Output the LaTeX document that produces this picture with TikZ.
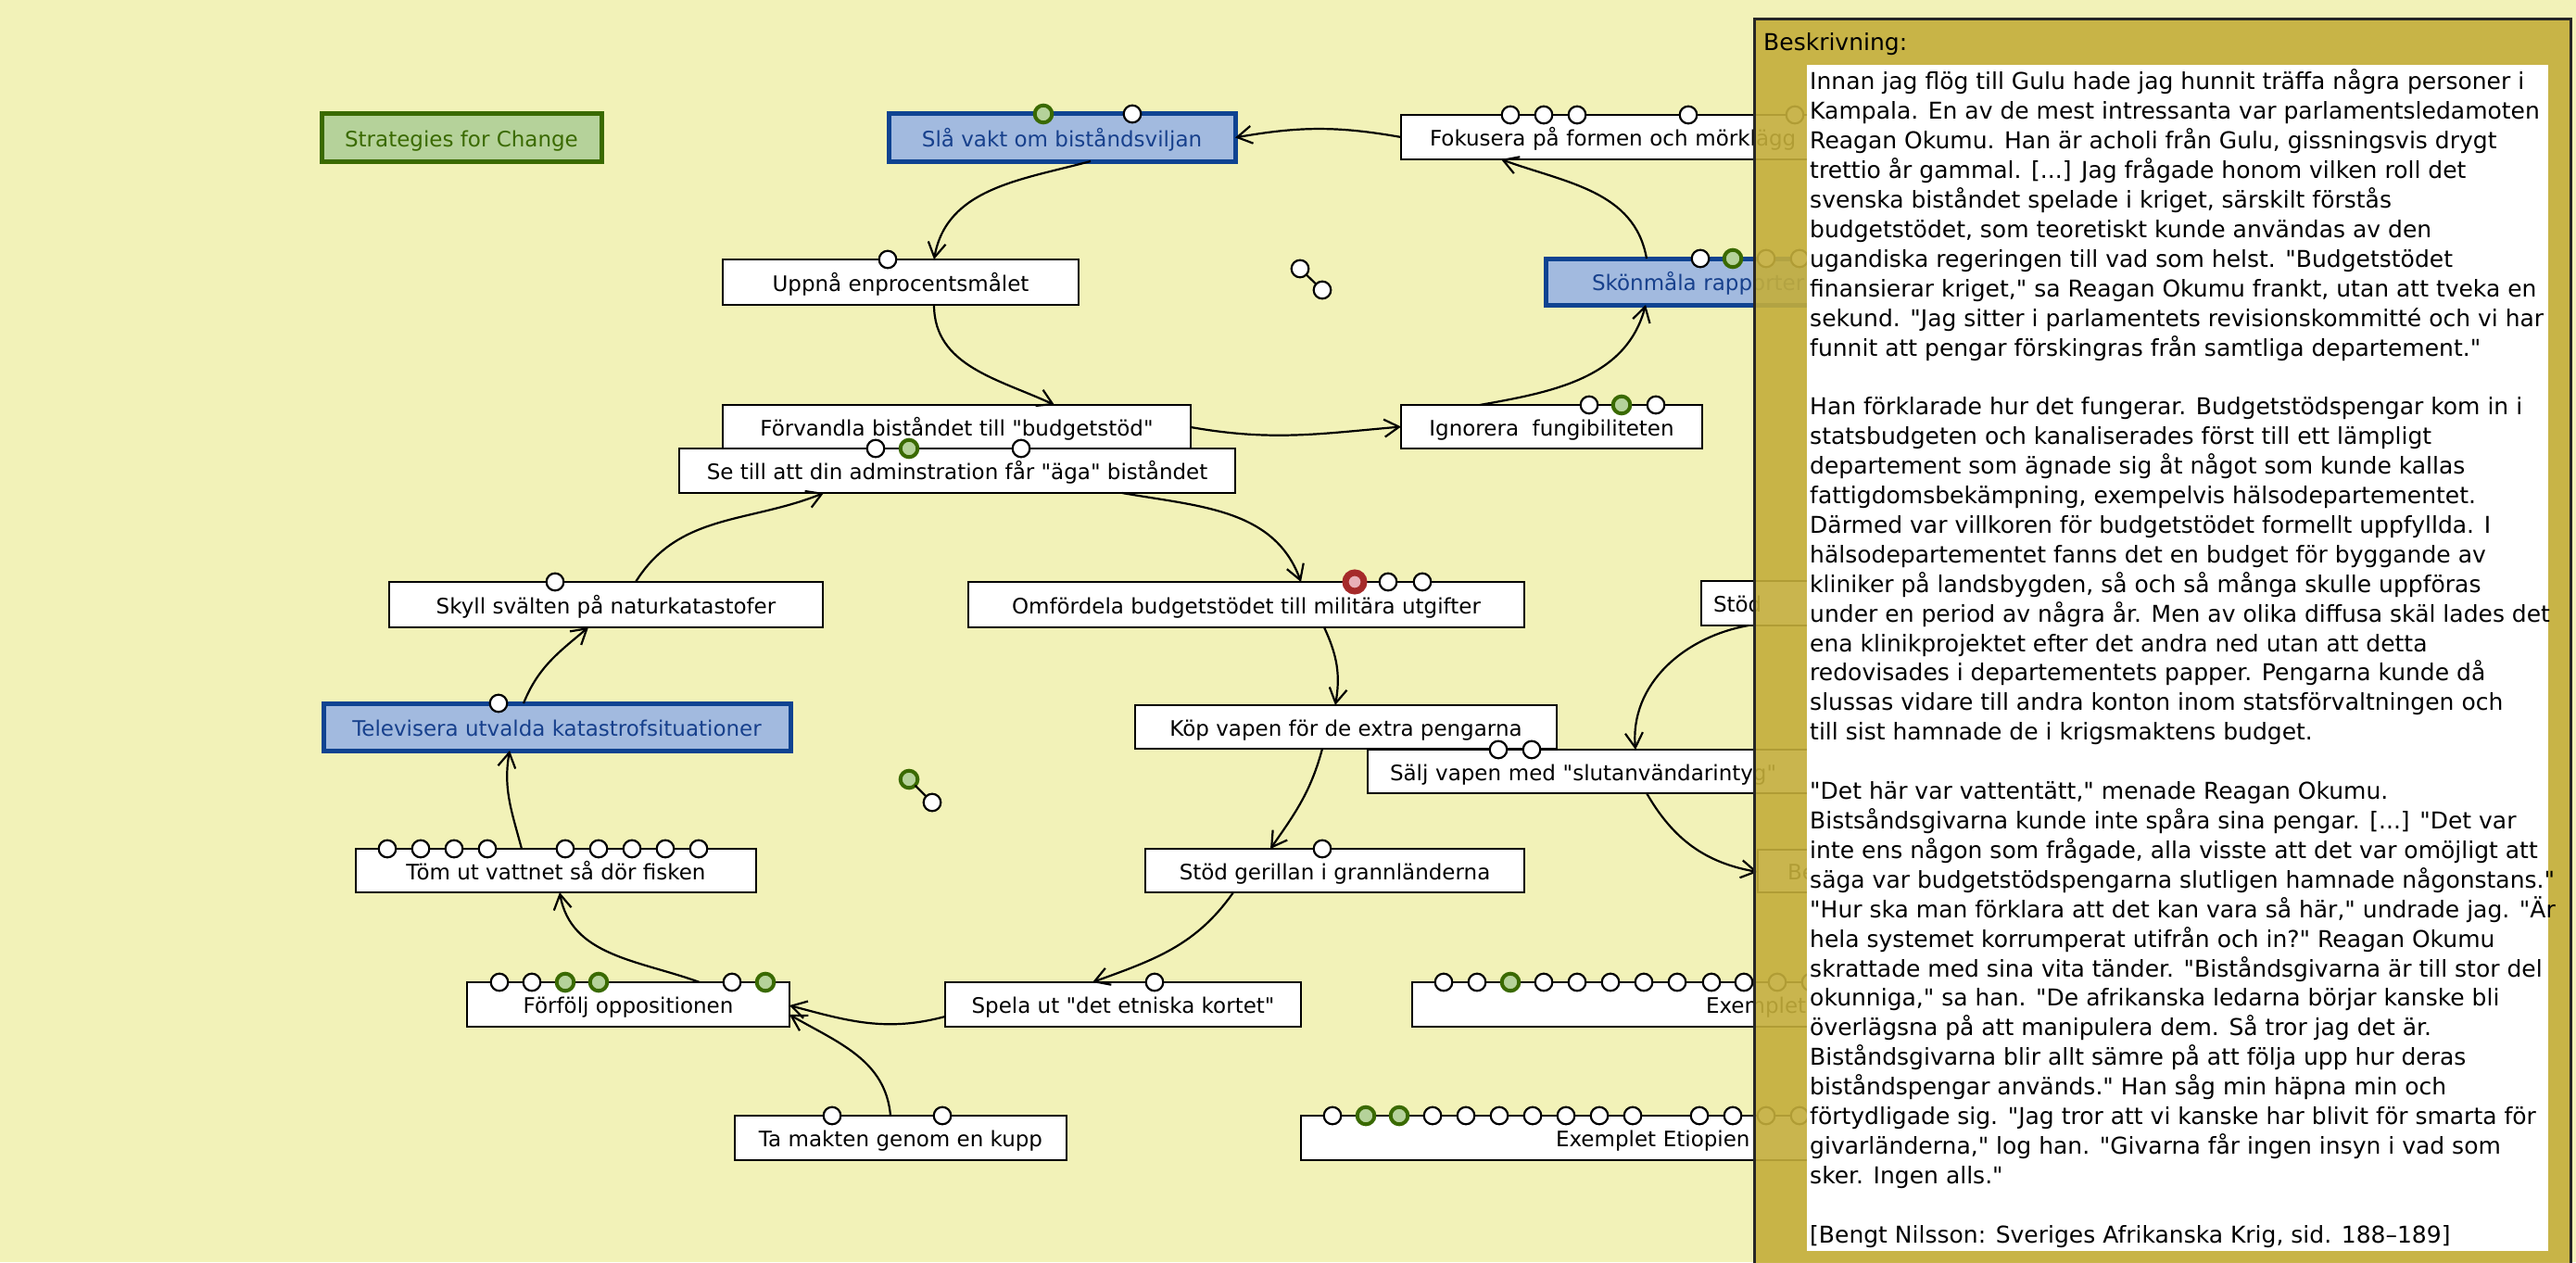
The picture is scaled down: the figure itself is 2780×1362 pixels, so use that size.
\documentclass[tikz,border=0pt]{standalone}
\usepackage{fontspec}
\setmainfont{DejaVu Sans}[Ligatures=TeXOff]
\usetikzlibrary{arrows.meta}
\definecolor{bg}{HTML}{F2F2B8}
\definecolor{gold}{HTML}{C4AE3B}
\definecolor{blueF}{HTML}{A2BADF}
\definecolor{blueB}{HTML}{0F4391}
\definecolor{blueT}{HTML}{17408C}
\definecolor{greenF}{HTML}{B5D29A}
\definecolor{greenB}{HTML}{3A6A00}
\definecolor{redF}{HTML}{E8B0B8}
\definecolor{redB}{HTML}{A52A2A}
\newcommand\nodefont{\fontsize{23}{27}\selectfont}
\newcommand\panelfont{\fontsize{25}{31.9}\selectfont}
\begin{document}
\begin{tikzpicture}[x=1pt,y=1pt,
  box/.style={draw=black, line width=2.6pt, fill=white, inner sep=0pt, outer sep=0pt, font=\nodefont, text height=19pt, text depth=0pt},
  bbox/.style={box, draw=blueB, fill=blueF, text=blueT, line width=5pt},
  gbox/.style={box, draw=greenB, fill=greenF, text=greenB, line width=5pt},
  wc/.style={circle, draw=black, fill=white, line width=2.2pt, minimum size=18.6pt, inner sep=0pt, outer sep=0pt},
  gc/.style={wc, draw=greenB, fill=greenF, line width=4pt},
  rc/.style={wc, draw=redB, fill=redF, line width=7pt, minimum size=20pt},
  conn/.style={line width=2.2pt, -{Straight Barb[length=16pt,width=19pt]}},
]
\useasboundingbox (0,0) rectangle (2780,-1362);
\clip (0,0) rectangle (2780,-1362);
\fill[bg] (0,0) rectangle (2780,-1362);

% boxes
\node[gbox, minimum width=302pt, minimum height=51pt] (strat) at (498,-148.5) {Strategies for Change};
\node[bbox, minimum width=374pt, minimum height=51pt] (slavakt) at (1146,-148.5) {Slå vakt om biståndsviljan};
\node[box, anchor=west, minimum height=48pt, inner xsep=31pt, text width=440pt, align=left] (fokus) at (1512,-148) {Fokusera på formen och mörklägg};
\node[box, minimum width=384pt, minimum height=49pt] (uppna) at (972,-304.5) {Uppnå enprocentsmålet};
\node[bbox, anchor=west, minimum height=50pt, inner xsep=50pt, text width=280pt, align=left] (skon) at (1668,-304) {Skönmåla rapporter};
\node[box, minimum width=505pt, minimum height=48pt] (forv) at (1032.5,-461) {Förvandla biståndet till "budgetstöd"};
\node[box, minimum width=325pt, minimum height=47pt] (ignor) at (1674.5,-460.5) {Ignorera\ \ fungibiliteten};
\node[box, minimum width=600pt, minimum height=48pt] (setill) at (1033,-508) {Se till att din adminstration får "äga" biståndet};
\node[box, minimum width=468pt, minimum height=49pt] (skyll) at (654,-652.5) {Skyll svälten på naturkatastofer};
\node[box, minimum width=600pt, minimum height=49pt] (omf) at (1345,-652.5) {Omfördela budgetstödet till militära utgifter};
\node[box, anchor=west, minimum height=48pt, inner xsep=13pt, text width=300pt, align=left] (stodR) at (1836,-651) {Stöd};
\node[bbox, minimum width=504pt, minimum height=51pt] (telev) at (601,-784.5) {Televisera utvalda katastrofsituationer};
\node[box, minimum width=455pt, minimum height=47pt] (kop) at (1452.5,-784.5) {Köp vapen för de extra pengarna};
\node[box, anchor=west, minimum height=47pt, inner xsep=24pt, text width=460pt, align=left] (salj) at (1476,-832.5) {Sälj vapen med "slutanvändarintyg"};
\node[box, minimum width=432pt, minimum height=47pt] (tom) at (600,-939.5) {Töm ut vattnet så dör fisken};
\node[box, minimum width=409pt, minimum height=47pt] (stodg) at (1440.5,-939.5) {Stöd gerillan i grannländerna};
\node[box, anchor=west, minimum height=46pt, inner xsep=32pt, text width=250pt, align=left] (beR) at (1897,-940) {Be};
\node[box, minimum width=348pt, minimum height=48pt] (forf) at (678,-1084) {Förfölj oppositionen};
\node[box, minimum width=384pt, minimum height=48pt] (spela) at (1212,-1084) {Spela ut "det etniska kortet"};
\node[box, anchor=west, minimum height=48pt, inner xsep=317pt, text width=200pt, align=left] (exem1) at (1524,-1084) {Exemplet};
\node[box, minimum width=358pt, minimum height=48pt] (ta) at (972,-1228) {Ta makten genom en kupp};
\node[box, anchor=west, minimum height=48pt, inner xsep=275pt, text width=250pt, align=left] (exem2) at (1404,-1228) {Exemplet Etiopien};

% circles on top edges
\node[gc] (slavakt-g1) at (1126,0 |- slavakt.north) {};
\node[wc] (slavakt-w1) at (1222,0 |- slavakt.north) {};
\foreach \x [count=\i] in {1630,1666,1702,1822,1937} \node[wc] (fokus-w\i) at (\x,0 |- fokus.north) {};
\node[wc] (uppna-w1) at (958,0 |- uppna.north) {};
\foreach \x [count=\i] in {1835,1906,1942} \node[wc] (skon-w\i) at (\x,0 |- skon.north) {};
\node[gc] (skon-g1) at (1870,0 |- skon.north) {};
\foreach \x [count=\i] in {1715,1787} \node[wc] (ignor-w\i) at (\x,0 |- ignor.north) {};
\node[gc] (ignor-g1) at (1750,0 |- ignor.north) {};
\foreach \x [count=\i] in {945,1102} \node[wc] (setill-w\i) at (\x,0 |- setill.north) {};
\node[gc] (setill-g1) at (981,0 |- setill.north) {};
\node[wc] (skyll-w1) at (599,0 |- skyll.north) {};
\node[rc] (omf-r1) at (1462,0 |- omf.north) {};
\foreach \x [count=\i] in {1498,1535} \node[wc] (omf-w\i) at (\x,0 |- omf.north) {};
\node[wc] (telev-w1) at (538,0 |- telev.north) {};
\foreach \x [count=\i] in {1617,1653} \node[wc] (salj-w\i) at (\x,0 |- salj.north) {};
\foreach \x [count=\i] in {418,454,490,526,610,646,682,718,754} \node[wc] (tom-w\i) at (\x,0 |- tom.north) {};
\node[wc] (stodg-w1) at (1427,0 |- stodg.north) {};
\node[wc] (spela-w1) at (1246,0 |- spela.north) {};
\foreach \x [count=\i] in {539,574,790} \node[wc] (forf-w\i) at (\x,0 |- forf.north) {};
\foreach \x [count=\i] in {610,646,826} \node[gc] (forf-g\i) at (\x,0 |- forf.north) {};
\foreach \x [count=\i] in {1558,1594,1666,1702,1738,1774,1810,1847,1882,1918,1954} \node[wc] (exem1-w\i) at (\x,0 |- exem1.north) {};
\node[gc] (exem1-g1) at (1630,0 |- exem1.north) {};
\foreach \x [count=\i] in {898,1017} \node[wc] (ta-w\i) at (\x,0 |- ta.north) {};
\foreach \x [count=\i] in {1438,1546,1582,1618,1654,1690,1726,1762,1834,1870,1906,1942} \node[wc] (exem2-w\i) at (\x,0 |- exem2.north) {};
\foreach \x [count=\i] in {1474,1510} \node[gc] (exem2-g\i) at (\x,0 |- exem2.north) {};

% loose pairs
\node[wc] (d1) at (1403,-290) {};
\node[wc] (d2) at (1427,-313) {};
\draw[line width=2.2pt] (d1) -- (d2);
\node[gc] (d3) at (981,-841) {};
\node[wc] (d4) at (1006,-866) {};
\draw[line width=2.2pt] (d3) -- (d4);

% connectors
\draw[conn] (fokus.west) to[out=170,in=10] (slavakt.east);
\draw[conn] ([xshift=31pt]slavakt.south) to[out=195,in=80] ([xshift=36pt]uppna.north);
\draw[conn] ([xshift=36pt]uppna.south) to[out=-90,in=155] ([xshift=105.5pt]forv.north);
\draw[conn] (forv.east) to[out=-10,in=185] (ignor.west);
\draw[conn] ([xshift=-77.5pt]ignor.north) to[out=10,in=-105] ([xshift=108pt]skon.south west);
\draw[conn] ([xshift=109pt]skon.north west) to[out=100,in=-20] ([xshift=108pt]fokus.south west);
\draw[conn] ([xshift=178pt]setill.south) to[out=-10,in=110] ([xshift=59pt]omf.north);
\draw[conn] ([xshift=84pt]omf.south) to[out=-65,in=80] ([xshift=-11.5pt]kop.north);
\draw[conn] ([xshift=-25.5pt]kop.south) to[out=-105,in=55] ([xshift=-69.5pt]stodg.north);
\draw[conn] ([xshift=-109.5pt]stodg.south) to[out=-125,in=20] ([xshift=-33pt]spela.north);
\draw[conn] ([yshift=-13pt]spela.west) to[out=195,in=-15] ([yshift=-1pt]forf.east);
\draw[conn] ([xshift=-11pt]ta.north) to[out=95,in=-30] ([yshift=-11pt]forf.east);
\draw[conn] ([xshift=77pt]forf.north) to[out=160,in=-80] ([xshift=4pt]tom.south);
\draw[conn] ([xshift=-37pt]tom.north) to[out=105,in=-100] ([xshift=-51pt]telev.south);
\draw[conn] ([xshift=-36pt]telev.north) to[out=68,in=-140] ([xshift=-19pt]skyll.south);
\draw[conn] ([xshift=32pt]skyll.north) to[out=58,in=-158] ([xshift=-144pt]setill.south);
\draw[conn] ([xshift=301pt]salj.south west) to[out=-60,in=170] ([yshift=-1pt]beR.west);
\draw[conn] ([xshift=51pt]stodR.south west) to[out=190,in=95] ([xshift=289pt]salj.north west);

% description panel
\fill[gold, fill opacity=0.9] (1893,-21) rectangle (2774,-1380);
\draw[line width=3pt, black!85] (1893,-1380) -- (1893,-21) -- (2774,-21) -- (2774,-1380);
\fill[white] (1950,-70) rectangle (2750,-1350);
\node[anchor=base west, inner sep=0pt, font=\panelfont] (lbl) at (1903,-55) {Beskrivning:};
\node[anchor=base west, inner sep=0pt, font=\panelfont] (desc) at (1953,-97) {\vtop{\baselineskip=31.9pt\lineskiplimit=-100pt\lineskip=0pt
\hbox{Innan jag flög till Gulu hade jag hunnit träffa några personer i}
\hbox{Kampala. En av de mest intressanta var parlamentsledamoten}
\hbox{Reagan Okumu. Han är acholi från Gulu, gissningsvis drygt}
\hbox{trettio år gammal. [...] Jag frågade honom vilken roll det}
\hbox{svenska biståndet spelade i kriget, särskilt förstås}
\hbox{budgetstödet, som teoretiskt kunde användas av den}
\hbox{ugandiska regeringen till vad som helst. "Budgetstödet}
\hbox{finansierar kriget," sa Reagan Okumu frankt, utan att tveka en}
\hbox{sekund. "Jag sitter i parlamentets revisionskommitté och vi har}
\hbox{funnit att pengar förskingras från samtliga departement."}
\hbox{}
\hbox{Han förklarade hur det fungerar. Budgetstödspengar kom in i}
\hbox{statsbudgeten och kanaliserades först till ett lämpligt}
\hbox{departement som ägnade sig åt något som kunde kallas}
\hbox{fattigdomsbekämpning, exempelvis hälsodepartementet.}
\hbox{Därmed var villkoren för budgetstödet formellt uppfyllda. I}
\hbox{hälsodepartementet fanns det en budget för byggande av}
\hbox{kliniker på landsbygden, så och så många skulle uppföras}
\hbox{under en period av några år. Men av olika diffusa skäl lades det}
\hbox{ena klinikprojektet efter det andra ned utan att detta}
\hbox{redovisades i departementets papper. Pengarna kunde då}
\hbox{slussas vidare till andra konton inom statsförvaltningen och}
\hbox{till sist hamnade de i krigsmaktens budget.}
\hbox{}
\hbox{"Det här var vattentätt," menade Reagan Okumu.}
\hbox{Bistsåndsgivarna kunde inte spåra sina pengar. [...] "Det var}
\hbox{inte ens någon som frågade, alla visste att det var omöjligt att}
\hbox{säga var budgetstödspengarna slutligen hamnade någonstans."}
\hbox{"Hur ska man förklara att det kan vara så här," undrade jag. "Är}
\hbox{hela systemet korrumperat utifrån och in?" Reagan Okumu}
\hbox{skrattade med sina vita tänder. "Biståndsgivarna är till stor del}
\hbox{okunniga," sa han. "De afrikanska ledarna börjar kanske bli}
\hbox{överlägsna på att manipulera dem. Så tror jag det är.}
\hbox{Biståndsgivarna blir allt sämre på att följa upp hur deras}
\hbox{biståndspengar används." Han såg min häpna min och}
\hbox{förtydligade sig. "Jag tror att vi kanske har blivit för smarta för}
\hbox{givarländerna," log han. "Givarna får ingen insyn i vad som}
\hbox{sker. Ingen alls."}
\hbox{}
\hbox{[Bengt Nilsson: Sveriges Afrikanska Krig, sid. 188–189]}
}};
\end{tikzpicture}
\end{document}
